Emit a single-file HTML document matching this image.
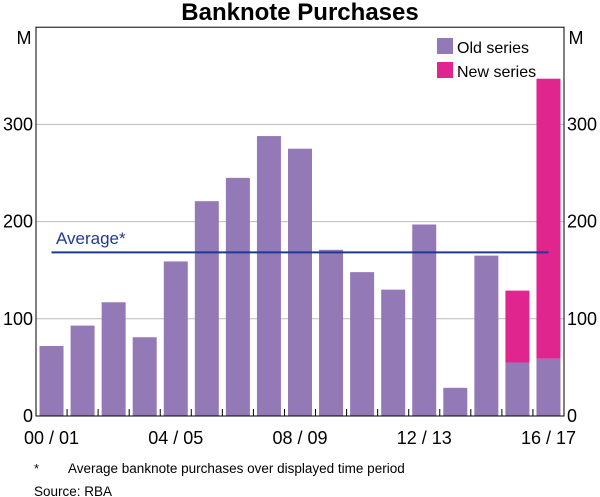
<!DOCTYPE html>
<html><head><meta charset="utf-8"><style>
body{margin:0;background:#fff;}
svg{display:block;font-family:"Liberation Sans",Arial,sans-serif;}
</style></head><body>
<svg id="chart" width="600" height="497" viewBox="0 0 600 497">
<text x="300" y="20" text-anchor="middle" font-size="24" font-weight="bold">Banknote Purchases</text>
<g id="grid"></g>
<g id="bars"></g>
<g id="avg"></g>
<rect x="36" y="27.2" width="528" height="388.8" fill="none" stroke="#000" stroke-width="1"/>
<g id="axes"></g>
<text x="24" y="44" text-anchor="middle" font-size="18">M</text>
<text x="576" y="44" text-anchor="middle" font-size="18">M</text>
<g>
<rect x="437" y="38" width="16" height="16" fill="#9479b7"/>
<text x="457" y="53" font-size="16">Old series</text>
<rect x="437" y="62" width="16" height="16" fill="#e0258f"/>
<text x="457" y="77" font-size="16">New series</text>
</g>
<text x="56" y="244" font-size="17" fill="#1f3a93">Average*</text>
<text x="34" y="473" font-size="13">*</text>
<text x="68" y="473" font-size="13.5">Average banknote purchases over displayed time period</text>
<text x="34" y="496" font-size="13.5">Source:   RBA</text>
</svg>
<script>
const categories=["00/01","01/02","02/03","03/04","04/05","05/06","06/07","07/08","08/09","09/10","10/11","11/12","12/13","13/14","14/15","15/16","16/17"];
const oldSeries=[72,93,117,81,159,221,245,288,275,171,148,130,197,29,165,55,59];
const newSeries=[0,0,0,0,0,0,0,0,0,0,0,0,0,0,0,74,288];
const yTicks=[0,100,200,300];
const xLabels=["00 / 01","04 / 05","08 / 09","12 / 13","16 / 17"];
const xLabelIdx=[0,4,8,12,16];
const average=[168.4];
const NS="http://www.w3.org/2000/svg";
const L=36,R=564,T=27.2,B=416,YMAX=400;
const bw=(R-L)/categories.length;
const y=v=>B-(v/YMAX)*(B-T);
const x=i=>L+i*bw;
function mk(t,a,p){const e=document.createElementNS(NS,t);for(const k in a)e.setAttribute(k,a[k]);p.appendChild(e);return e;}
const grid=document.getElementById('grid'),bars=document.getElementById('bars'),axes=document.getElementById('axes'),avg=document.getElementById('avg');
yTicks.forEach(v=>{
 if(v>0){const g=mk('line',{x1:L,x2:R,y1:y(v),y2:y(v),stroke:'#bbb','stroke-width':1},grid);
 
 }
 const a=mk('text',{x:L-3,y:y(v)+6,'text-anchor':'end','font-size':18},axes);a.textContent=v;
 
 
 const b=mk('text',{x:R+3,y:y(v)+6,'font-size':18},axes);b.textContent=v;
 
 
});
categories.forEach((c,i)=>{
 const cx=x(i)+bw/2,w=24;
 const o=mk('rect',{x:cx-w/2,y:y(oldSeries[i]),width:w,height:B-y(oldSeries[i]),fill:'#9479b7'},bars);
 
 
 if(newSeries[i]>0){const top=oldSeries[i]+newSeries[i];
  const n=mk('rect',{x:cx-w/2,y:y(top),width:w,height:y(oldSeries[i])-y(top),fill:'#e0258f'},bars);
  
  }
 if(i>0){const t=mk('line',{x1:x(i),x2:x(i),y1:B,y2:B-7,stroke:'#000'},axes);
  
  }
});
xLabelIdx.forEach((idx,k)=>{
 const t=mk('text',{x:x(idx)+bw/2,y:444,'text-anchor':'middle','font-size':18},axes);t.textContent=xLabels[k];
 
 
});
const al=mk('line',{x1:x(0)+bw/2,x2:x(16)+bw/2,y1:y(average[0]),y2:y(average[0]),stroke:'#1f3a93','stroke-width':2},avg);


</script>
</body></html>
